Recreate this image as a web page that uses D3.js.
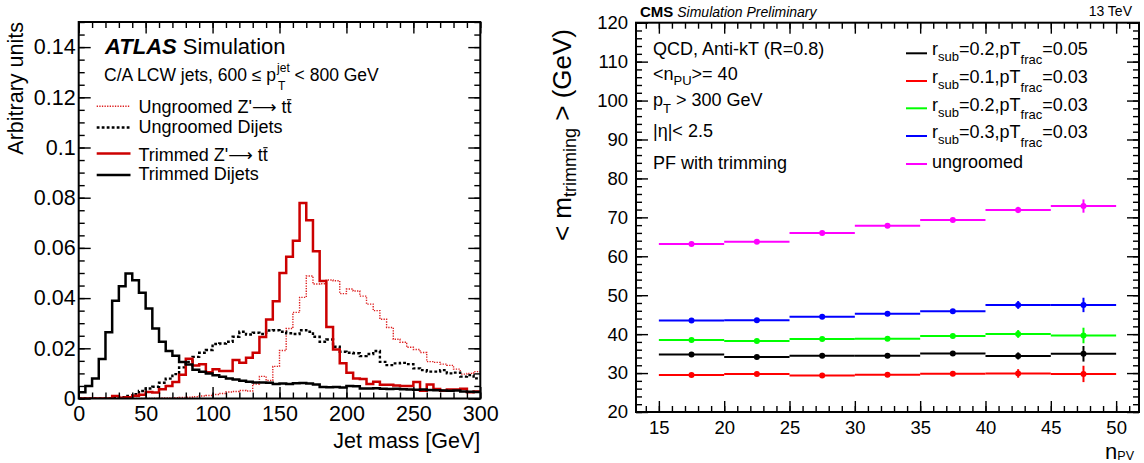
<!DOCTYPE html>
<html>
<head>
<meta charset="utf-8">
<script src="https://cdn.jsdelivr.net/npm/d3@7"></script>
<style>
  html, body { margin: 0; padding: 0; background: #fff; }
  svg text { white-space: pre; }
</style>
</head>
<body>
<svg id="fig" width="1144" height="463"></svg>
<script>
// ---------------- Jet mass histograms (5 GeV bins, lower edges) ----------------
const massBinLow = [0,5,10,15,20,25,30,35,40,45,50,55,60,65,70,75,80,85,90,95,
  100,105,110,115,120,125,130,135,140,145,150,155,160,165,170,175,180,185,190,195,
  200,205,210,215,220,225,230,235,240,245,250,255,260,265,270,275,280,285,290,295];
const massBinWidth = 5;

const trimmedDijets = [
  0.0025,0.0050,0.0080,0.0157,0.0264,0.0389,0.0447,0.0498,0.0471,0.0421,
  0.0359,0.0279,0.0226,0.0189,0.0170,0.0145,0.0135,0.0115,0.0107,0.0100,
  0.0093,0.0087,0.0080,0.0076,0.0071,0.0067,0.0064,0.0064,0.0063,0.0058,
  0.0060,0.0058,0.0061,0.0062,0.0060,0.0056,0.0046,0.0045,0.0046,0.0044,
  0.0050,0.0049,0.0040,0.0040,0.0041,0.0039,0.0038,0.0039,0.0037,0.0036,
  0.0035,0.0036,0.0034,0.0033,0.0032,0.0031,0.0032,0.0028,0.0027,0.0026];

const trimmedZp = [
  0,0,0,0,0,0.0010,0.0003,0.0005,0.0011,0.0015,
  0.0026,0.0024,0.0037,0.0050,0.0066,0.0095,0.0158,0.0131,0.0136,0.0105,
  0.0117,0.0110,0.0110,0.0153,0.0142,0.0162,0.0182,0.0245,0.0315,0.0387,
  0.0500,0.0565,0.0628,0.0779,0.0710,0.0587,0.0468,0.0285,0.0195,0.0140,
  0.0103,0.0080,0.0078,0.0058,0.0067,0.0055,0.0055,0.0052,0.0050,0.0050,
  0.0066,0.0031,0.0056,0.0038,0.0031,0.0036,0.0036,0.0039,0.0025,0.0028];

const ungroomedDijets = [
  0,0,0,0,0,0.0002,0.0005,0.0010,0.0017,0.0030,
  0.0040,0.0047,0.0063,0.0079,0.0097,0.0124,0.0146,0.0166,0.0182,0.0193,
  0.0217,0.0219,0.0226,0.0246,0.0266,0.0255,0.0262,0.0257,0.0271,0.0272,
  0.0266,0.0260,0.0257,0.0272,0.0266,0.0246,0.0226,0.0235,0.0206,0.0186,
  0.0182,0.0180,0.0169,0.0177,0.0189,0.0146,0.0133,0.0140,0.0142,0.0137,
  0.0120,0.0113,0.0107,0.0107,0.0113,0.0100,0.0103,0.0087,0.0093,0.0080];

const ungroomedZp = [
  0,0,0,0,0,0,0,0,0,0,
  0,0.0001,0.0002,0.0002,0.0003,0.0004,0.0005,0.0007,0.0010,0.0012,
  0.0016,0.0020,0.0026,0.0028,0.0032,0.0030,0.0058,0.0088,0.0072,0.0128,
  0.0191,0.0279,0.0343,0.0403,0.0488,0.0456,0.0457,0.0472,0.0469,0.0418,
  0.0436,0.0428,0.0408,0.0376,0.0350,0.0316,0.0283,0.0236,0.0224,0.0204,
  0.0195,0.0183,0.0147,0.0144,0.0137,0.0132,0.0117,0.0097,0.0100,0.0107];

const massTicks = [0,50,100,150,200,250,300];
const unitsTicks = [0,0.02,0.04,0.06,0.08,0.1,0.12,0.14];

// ---------------- Mean trimmed mass vs number of primary vertices ----------------
const npvLow  = [15,20,25,30,35,40,45];
const npvHigh = [20,25,30,35,40,45,50];
const npvMid  = [17.5,22.5,27.5,32.5,37.5,42.5,47.5];

const mR02F05   = [34.80,34.10,34.45,34.45,35.00,34.40,34.95];
const eR02F05   = [0.25,0.25,0.25,0.25,0.35,0.90,2.00];
const mR01F03   = [29.50,29.75,29.35,29.60,29.85,29.90,29.78];
const eR01F03   = [0.25,0.25,0.25,0.25,0.35,1.10,2.10];
const mR02F03   = [38.50,38.25,38.75,38.80,39.55,40.05,39.65];
const eR02F03   = [0.25,0.25,0.25,0.25,0.35,1.00,2.00];
const mR03F03   = [43.50,43.60,44.45,45.25,45.90,47.50,47.50];
const eR03F03   = [0.25,0.25,0.25,0.25,0.35,1.00,1.85];
const mUngroomed = [63.15,63.75,66.00,67.85,69.30,71.90,72.90];
const eUngroomed = [0.25,0.25,0.25,0.25,0.35,0.80,1.70];

const npvTicks = [15,20,25,30,35,40,45,50];
const massMeanTicks = [20,30,40,50,60,70,80,90,100,110,120];

// ---------------------------------------------------------------------------
const FONT = "'Liberation Sans', Arial, Helvetica, sans-serif";
const svg = d3.select('#fig').attr('font-family', FONT);
svg.append('rect').attr('width', 1144).attr('height', 463).attr('fill', '#fff');

// Inward ticks on all four sides of a frame, labels on bottom and left
function drawFrame(g, x, y, f, o) {
  const fix = sel => sel.call(s => s.select('.domain').remove())
    .attr('font-family', FONT).attr('font-size', o.fontSize);
  const stroke = sel => sel.selectAll('line').attr('stroke', '#000').attr('stroke-width', 1.4);

  g.append('g').attr('transform', `translate(0,${f.bottom})`)
    .call(d3.axisBottom(x).tickValues(o.xMinor).tickSizeInner(-o.minor).tickSizeOuter(0).tickFormat(''))
    .call(fix).call(stroke);
  g.append('g').attr('transform', `translate(0,${f.bottom})`)
    .call(d3.axisBottom(x).tickValues(o.xMajor).tickSizeInner(-o.majorX).tickSizeOuter(0)
      .tickPadding(o.padX).tickFormat(o.fmtX))
    .call(fix).call(stroke)
    .selectAll('text').attr('fill', '#000');
  g.append('g').attr('transform', `translate(0,${f.top})`)
    .call(d3.axisTop(x).tickValues(o.xMinor).tickSizeInner(-o.minor).tickSizeOuter(0).tickFormat(''))
    .call(fix).call(stroke);
  g.append('g').attr('transform', `translate(0,${f.top})`)
    .call(d3.axisTop(x).tickValues(o.xMajor).tickSizeInner(-o.majorX).tickSizeOuter(0).tickFormat(''))
    .call(fix).call(stroke);

  g.append('g').attr('transform', `translate(${f.left},0)`)
    .call(d3.axisLeft(y).tickValues(o.yMinor).tickSizeInner(-o.minor).tickSizeOuter(0).tickFormat(''))
    .call(fix).call(stroke);
  g.append('g').attr('transform', `translate(${f.left},0)`)
    .call(d3.axisLeft(y).tickValues(o.yMajor).tickSizeInner(-o.majorY).tickSizeOuter(0)
      .tickPadding(o.padY).tickFormat(o.fmtY))
    .call(fix).call(stroke)
    .selectAll('text').attr('fill', '#000');
  g.append('g').attr('transform', `translate(${f.right},0)`)
    .call(d3.axisRight(y).tickValues(o.yMinor).tickSizeInner(-o.minor).tickSizeOuter(0).tickFormat(''))
    .call(fix).call(stroke);
  g.append('g').attr('transform', `translate(${f.right},0)`)
    .call(d3.axisRight(y).tickValues(o.yMajor).tickSizeInner(-o.majorY).tickSizeOuter(0).tickFormat(''))
    .call(fix).call(stroke);

  g.append('rect')
    .attr('x', f.left).attr('y', f.top)
    .attr('width', f.right - f.left).attr('height', f.bottom - f.top)
    .attr('fill', 'none').attr('stroke', '#000').attr('stroke-width', 2);
}

// Text made of consecutive runs (for sub/superscripts)
function rich(parent, x, y, size, runs) {
  const t = parent.append('text').attr('x', x).attr('y', y)
    .attr('font-size', size).attr('fill', '#000');
  runs.forEach(r => {
    const s = t.append('tspan').text(r.t);
    if (r.size) s.attr('font-size', r.size);
    if (r.dy) s.attr('dy', r.dy);
    if (r.weight) s.attr('font-weight', r.weight);
    if (r.style) s.attr('font-style', r.style);
    if (r.family) s.attr('font-family', r.family);
  });
  return t;
}

// "<process> Z'-> tt" with a long arrow and an overbar on the final t
function zprimeLabel(parent, x, y, size, prefix) {
  const t = rich(parent, x, y, size, [
    { t: prefix + " Z'" },
    { t: '\u27F6', family: "'DejaVu Sans', sans-serif", size: size * 0.95 },
    { t: ' tt' }
  ]);
  const n = t.text().length;
  const full = t.node().getComputedTextLength();
  const pre = t.node().getSubStringLength(0, n - 1);
  parent.append('line')
    .attr('x1', x + pre + 0.5).attr('x2', x + full - 0.2)
    .attr('y1', y - size * 0.74).attr('y2', y - size * 0.74)
    .attr('stroke', '#000').attr('stroke-width', 1.1);
  return t;
}

// ======================= Left panel =======================
const FL = { left: 78.7, right: 480.3, top: 22, bottom: 398.5 };
const xL = d3.scaleLinear().domain([0, 300]).range([FL.left, FL.right]);
const yL = d3.scaleLinear().domain([0, 0.15]).range([FL.bottom, FL.top]);
const gL = svg.append('g');

gL.append('clipPath').attr('id', 'clipL').append('rect')
  .attr('x', FL.left).attr('y', FL.top)
  .attr('width', FL.right - FL.left).attr('height', FL.bottom - FL.top);

const stepLine = d3.line().curve(d3.curveStepAfter)
  .x(d => xL(d[0])).y(d => yL(d[1]));
function histPoints(vals) {
  const pts = massBinLow.map((b, i) => [b, vals[i]]);
  pts.push([massBinLow[massBinLow.length - 1] + massBinWidth, vals[vals.length - 1]]);
  return pts;
}

const histSeries = [
  { vals: ungroomedZp,     color: '#dd1f1f', width: 1.4, dash: '1.3 1.3', prefix: 'Ungroomed', zp: true },
  { vals: ungroomedDijets, color: '#000000', width: 2.4, dash: '2.8 2.2', label: 'Ungroomed Dijets' },
  { vals: trimmedZp,       color: '#cc0000', width: 2.5, dash: null,      prefix: 'Trimmed', zp: true },
  { vals: trimmedDijets,   color: '#000000', width: 2.5, dash: null,      label: 'Trimmed Dijets' }
];

const histG = gL.append('g').attr('clip-path', 'url(#clipL)');
histSeries.forEach(s => {
  histG.append('path').datum(histPoints(s.vals))
    .attr('d', stepLine).attr('fill', 'none')
    .attr('stroke', s.color).attr('stroke-width', s.width)
    .attr('stroke-dasharray', s.dash);
});

drawFrame(gL, xL, yL, FL, {
  xMajor: massTicks, xMinor: d3.range(0, 301, 10),
  yMajor: unitsTicks, yMinor: d3.range(0, 31).map(i => i * 0.005),
  majorX: 11.5, majorY: 12, minor: 6, fontSize: 21.5,
  padX: 7, padY: 3,
  fmtX: d3.format('d'),
  fmtY: v => v === 0 ? '0' : d3.format('.2~f')(v)
});

// axis titles
gL.append('text').attr('x', FL.right).attr('y', 447.5)
  .attr('text-anchor', 'end').attr('font-size', 21.5).attr('fill', '#000')
  .text('Jet mass [GeV]');
gL.append('text').attr('transform', 'translate(23,22) rotate(-90)')
  .attr('text-anchor', 'end').attr('font-size', 21.5).attr('fill', '#000')
  .text('Arbitrary units');

// labels
rich(gL, 105, 54, 22, [
  { t: 'ATLAS', weight: 'bold', style: 'italic' },
  { t: ' Simulation' }
]);
{
  const t1 = gL.append('text').attr('x', 104).attr('y', 81).attr('font-size', 17.5)
    .attr('fill', '#000').text('C/A LCW jets, 600 \u2264 p');
  const xs = 104 + t1.node().getComputedTextLength() + 1;
  const sup = gL.append('text').attr('x', xs).attr('y', 72).attr('font-size', 12)
    .attr('fill', '#000').text('jet');
  const sub = gL.append('text').attr('x', xs + 1).attr('y', 89.5).attr('font-size', 12)
    .attr('fill', '#000').text('T');
  const ws = Math.max(sup.node().getComputedTextLength(), sub.node().getComputedTextLength() + 1);
  gL.append('text').attr('x', xs + ws).attr('y', 81).attr('font-size', 17.5)
    .attr('fill', '#000').text(' < 800 GeV');
}

// legend
const legLineY = [106.3, 127.5, 153.5, 175];
const legTextY = [113, 133.3, 161, 180];
histSeries.forEach((s, i) => {
  gL.append('line')
    .attr('x1', 96.7).attr('x2', 130.5)
    .attr('y1', legLineY[i]).attr('y2', legLineY[i])
    .attr('stroke', s.color).attr('stroke-width', s.width)
    .attr('stroke-dasharray', s.dash);
  if (s.zp) zprimeLabel(gL, 138.5, legTextY[i], 18, s.prefix);
  else gL.append('text').attr('x', 138.5).attr('y', legTextY[i])
    .attr('font-size', 18).attr('fill', '#000').text(s.label);
});

// ======================= Right panel =======================
const FR = { left: 636, right: 1139, top: 22.7, bottom: 412 };
const xR = d3.scaleLinear().domain([13.25, 51.75]).range([FR.left, FR.right]);
const yR = d3.scaleLinear().domain([20, 120]).range([FR.bottom, FR.top]);
const gR = svg.append('g');

const profSeries = [
  { vals: mR02F05,    err: eR02F05,    color: '#000000',
    label: [{ t: 'r' }, { t: 'sub', size: 13, dy: 6 }, { t: '=0.2,pT', dy: -6 },
            { t: 'frac', size: 13, dy: 8.5 }, { t: '=0.05', dy: -8.5 }] },
  { vals: mR01F03,    err: eR01F03,    color: '#ff0000',
    label: [{ t: 'r' }, { t: 'sub', size: 13, dy: 6 }, { t: '=0.1,pT', dy: -6 },
            { t: 'frac', size: 13, dy: 8.5 }, { t: '=0.03', dy: -8.5 }] },
  { vals: mR02F03,    err: eR02F03,    color: '#00ff00',
    label: [{ t: 'r' }, { t: 'sub', size: 13, dy: 6 }, { t: '=0.2,pT', dy: -6 },
            { t: 'frac', size: 13, dy: 8.5 }, { t: '=0.03', dy: -8.5 }] },
  { vals: mR03F03,    err: eR03F03,    color: '#0000ff',
    label: [{ t: 'r' }, { t: 'sub', size: 13, dy: 6 }, { t: '=0.3,pT', dy: -6 },
            { t: 'frac', size: 13, dy: 8.5 }, { t: '=0.03', dy: -8.5 }] },
  { vals: mUngroomed, err: eUngroomed, color: '#ff00ff',
    label: [{ t: 'ungroomed' }] }
];

// draw the ungroomed profile first, the trimmed ones on top
[4, 3, 2, 0, 1].forEach(k => {
  const s = profSeries[k];
  const g = gR.append('g');
  s.vals.forEach((v, i) => {
    g.append('line')
      .attr('x1', xR(npvLow[i])).attr('x2', xR(npvHigh[i]))
      .attr('y1', yR(v)).attr('y2', yR(v))
      .attr('stroke', s.color).attr('stroke-width', 2);
    g.append('line')
      .attr('x1', xR(npvMid[i])).attr('x2', xR(npvMid[i]))
      .attr('y1', yR(v - s.err[i])).attr('y2', yR(v + s.err[i]))
      .attr('stroke', s.color).attr('stroke-width', 2);
    g.append('circle')
      .attr('cx', xR(npvMid[i])).attr('cy', yR(v)).attr('r', 3)
      .attr('fill', s.color);
  });
});

drawFrame(gR, xR, yR, FR, {
  xMajor: npvTicks, xMinor: d3.range(14, 52, 1),
  yMajor: massMeanTicks, yMinor: d3.range(20, 121, 2),
  majorX: 11, majorY: 12, minor: 6, fontSize: 18.5,
  padX: 9, padY: 8,
  fmtX: d3.format('d'), fmtY: d3.format('d')
});

// axis titles
{
  const t = gR.append('text').attr('transform', 'translate(571,29) rotate(-90)')
    .attr('text-anchor', 'end').attr('font-size', 26).attr('fill', '#000');
  t.append('tspan').text('< m');
  t.append('tspan').attr('font-size', 18).attr('dy', 5).text('trimming');
  t.append('tspan').attr('dy', -5).text(' > (GeV)');
}
{
  const t = gR.append('text').attr('x', 1134).attr('y', 458.5)
    .attr('text-anchor', 'end').attr('font-size', 22).attr('fill', '#000');
  t.append('tspan').text('n');
  t.append('tspan').attr('font-size', 12.5).attr('dy', 1.7).text('PV');
}

// header
rich(gR, 640, 16.5, 15, [
  { t: 'CMS', weight: 'bold' },
  { t: ' Simulation Preliminary', style: 'italic', size: 14 }
]);
gR.append('text').attr('x', 1132).attr('y', 16).attr('text-anchor', 'end')
  .attr('font-size', 14).attr('fill', '#000').text('13 TeV');

// selection text
rich(gR, 653, 55, 18, [{ t: 'QCD, Anti-kT (R=0.8)' }]);
rich(gR, 653, 80, 18, [{ t: '<n' }, { t: 'PU', size: 13, dy: 5 }, { t: '>= 40', dy: -5 }]);
rich(gR, 653, 105.5, 18, [{ t: 'p' }, { t: 'T', size: 13, dy: 7 }, { t: ' > 300 GeV', dy: -7 }]);
rich(gR, 653, 137, 18, [{ t: '|\u03b7|< 2.5' }]);
rich(gR, 653, 169, 18, [{ t: 'PF with trimming' }]);

// legend
const rLegLineY = [53.3, 81, 108.3, 136, 164];
const rLegTextY = [55.3, 83.3, 110.7, 138.3, 168.3];
profSeries.forEach((s, i) => {
  gR.append('line')
    .attr('x1', 906).attr('x2', 927)
    .attr('y1', rLegLineY[i]).attr('y2', rLegLineY[i])
    .attr('stroke', s.color).attr('stroke-width', 2);
  rich(gR, 932, rLegTextY[i], 18, s.label);
});
</script>
</body>
</html>
